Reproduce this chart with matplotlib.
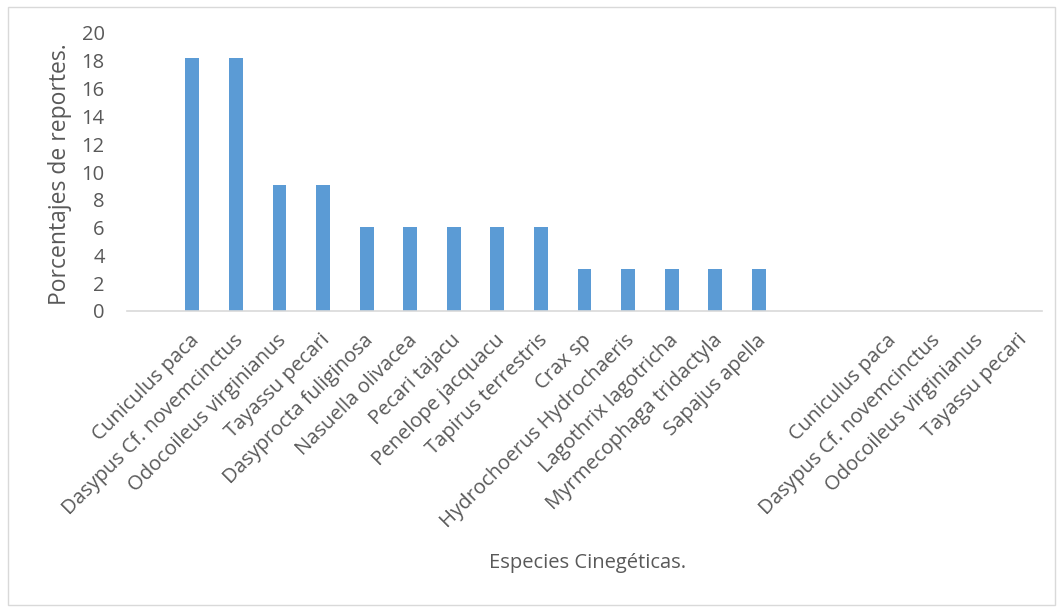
import matplotlib
matplotlib.use("Agg")
import matplotlib.pyplot as plt
from matplotlib.patches import Rectangle
from matplotlib.transforms import ScaledTranslation

plt.rcParams['font.family'] = ['Open Sans', 'DejaVu Sans']

categories = ["", "Cuniculus paca", "Dasypus Cf. novemcinctus", "Odocoileus virginianus",
              "Tayassu pecari", "Dasyprocta fuliginosa", "Nasuella olivacea", "Pecari tajacu",
              "Penelope jacquacu", "Tapirus terrestris", "Crax sp", "Hydrochoerus Hydrochaeris",
              "Lagothrix lagotricha", "Myrmecophaga tridactyla", "Sapajus apella", "", "",
              "Cuniculus paca", "Dasypus Cf. novemcinctus", "Odocoileus virginianus", "Tayassu pecari"]
values = [0, 18.18, 18.18, 9.09, 9.09, 6.06, 6.06, 6.06, 6.06, 6.06,
          3.03, 3.03, 3.03, 3.03, 3.03, 0, 0, 0, 0, 0, 0]
yticks = [0, 2, 4, 6, 8, 10, 12, 14, 16, 18, 20]

text_color = "#595959"
bar_color = "#5B9BD5"

fig = plt.figure(figsize=(10.62, 6.11), dpi=100)
fig.patches.append(Rectangle((8/1062, 1 - 605/611), 1047/1062, 598/611,
                             transform=fig.transFigure, fill=False,
                             edgecolor="#d9d9d9", linewidth=1))
ax = fig.add_axes([127/1062, 1 - 311/611, 915/1062, 278/611])

x = list(range(len(categories)))
ax.bar(x, values, width=0.32, color=bar_color, zorder=2)
ax.set_xlim(-0.5, len(categories) - 0.5)
ax.set_ylim(0, 20)
ax.set_yticks(yticks)
ax.set_yticklabels([str(v) for v in yticks], fontsize=14.5, color=text_color)
ax.set_xticks(x)
ax.set_xticklabels(categories, rotation=45, ha='right', va='center',
                   rotation_mode='anchor', fontsize=14.6, color=text_color)
ax.tick_params(axis='both', length=0)
ax.tick_params(axis='x', pad=19)
ax.tick_params(axis='y', pad=16)
offset = ScaledTranslation(4/100, 0, fig.dpi_scale_trans)
for lbl in ax.get_xticklabels():
    lbl.set_transform(lbl.get_transform() + offset)
for s in ['top', 'right', 'left']:
    ax.spines[s].set_visible(False)
ax.spines['bottom'].set_color("#d9d9d9")
ax.spines['bottom'].set_linewidth(1.2)

fig.text(60/1062, 1 - 174/611, "Porcentajes de reportes.", fontsize=16.5,
         color=text_color, ha='center', va='center', rotation=90)
fig.text(588/1062, 1 - 563/611, "Especies Cinegéticas.", fontsize=14.5,
         color=text_color, ha='center', va='center')

fig.savefig("out.png", dpi=100)
